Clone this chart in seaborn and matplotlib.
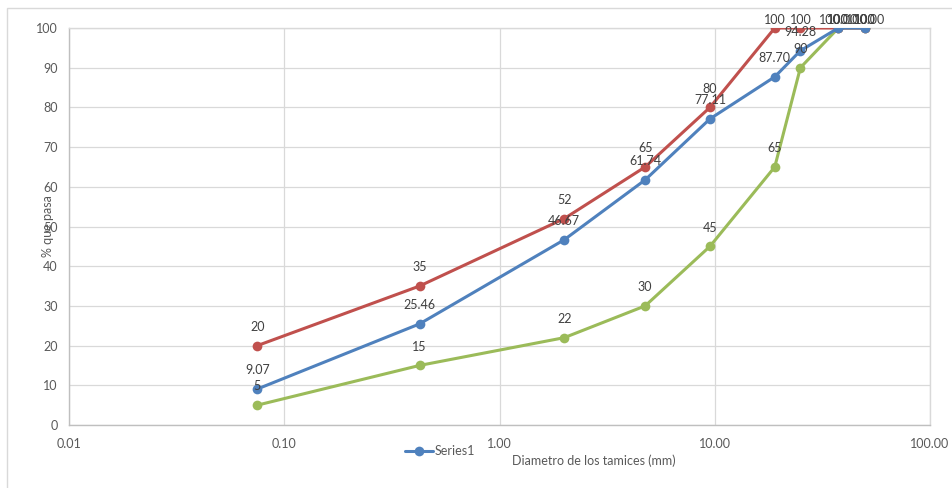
import matplotlib
matplotlib.use("Agg")
import matplotlib.pyplot as plt
from matplotlib.lines import Line2D
from matplotlib.patches import Rectangle
import pandas as pd
import seaborn as sns

# Sieve openings (mm) and percent passing for each curve
sieve_mm = [0.075, 0.425, 2.0, 4.75, 9.5, 19.0, 25.0, 37.5, 50.0]
series1 = [9.07, 25.46, 46.67, 61.74, 77.11, 87.70, 94.28, 100, 100]
upper_limit = [20, 35, 52, 65, 80, 100, 100, 100, 100]
lower_limit = [5, 15, 22, 30, 45, 65, 90, 100, 100]

series_names = ["Series1", "Upper", "Lower"]
colors = {"Series1": "#4F81BD", "Upper": "#C0504D", "Lower": "#9BBB59"}
label_fmt = {"Series1": "{:.2f}", "Upper": "{:.0f}", "Lower": "{:.0f}"}

x_ticks = [0.01, 0.1, 1, 10, 100]
x_tick_labels = ["0.01", "0.10", "1.00", "10.00", "100.00"]
y_ticks = list(range(0, 101, 10))

frames = []
for name, vals in zip(series_names, [series1, upper_limit, lower_limit]):
    frames.append(pd.DataFrame({"size": sieve_mm, "pct": vals, "serie": name}))
df = pd.concat(frames, ignore_index=True)

sns.set_theme(style="white")
plt.rcParams["font.family"] = ["Lato", "DejaVu Sans"]

fig = plt.figure(figsize=(9.52, 4.88), dpi=100)
ax = fig.add_axes([69 / 952, 63 / 488, 861 / 952, 397 / 488])

# Outer chart frame
fig.patches.append(Rectangle((7 / 952, -0.01), 1.0, (488 - 8) / 488 + 0.01,
                             transform=fig.transFigure, fill=False,
                             edgecolor="#D9D9D9", linewidth=1.0, zorder=0))

# Draw order: green, then red, then blue on top
for name in ["Lower", "Upper", "Series1"]:
    sub = df[df["serie"] == name]
    sns.lineplot(data=sub, x="size", y="pct", ax=ax, color=colors[name],
                 marker="o", markersize=7, markeredgewidth=0, linewidth=2.2,
                 legend=False, sort=False, zorder=3)

ax.set_xscale("log")
ax.set_xlim(0.01, 100)
ax.set_ylim(0, 100)
ax.set_xticks(x_ticks)
ax.set_xticklabels(x_tick_labels)
ax.set_yticks(y_ticks)
ax.minorticks_off()

ax.grid(True, color="#D9D9D9", linewidth=0.9)
ax.set_axisbelow(True)
for side in ["top", "right"]:
    ax.spines[side].set_color("#D9D9D9")
for side in ["left", "bottom"]:
    ax.spines[side].set_color("#BFBFBF")
for s in ax.spines.values():
    s.set_linewidth(1.0)

ax.tick_params(axis="y", direction="out", length=5, color="#BFBFBF",
               labelsize=9, labelcolor="#595959", pad=3)
ax.tick_params(axis="x", direction="out", length=0, labelsize=9,
               labelcolor="#595959", pad=9)

# Data labels above each point; labels at the top are kept inside the chart
for name, vals in zip(series_names, [series1, upper_limit, lower_limit]):
    for xv, yv in zip(sieve_mm, vals):
        dy = 6 if yv >= 99.5 else 13.5
        ax.annotate(label_fmt[name].format(yv), (xv, yv), xytext=(0, dy),
                    textcoords="offset points", ha="center", va="center",
                    fontsize=9, color="#404040", zorder=5,
                    annotation_clip=False)

ax.set_xlabel("Diametro de los tamices (mm)", fontsize=9, color="#595959")
ax.xaxis.set_label_coords(0.61, -0.075)
ax.set_ylabel("% que pasa", fontsize=9, color="#595959")
ax.yaxis.set_label_coords(-0.018, 0.5)

handle = Line2D([0], [0], color=colors["Series1"], marker="o", markersize=7,
                markeredgewidth=0, linewidth=2.2)
fig.legend([handle], ["Series1"], loc="center", bbox_to_anchor=(440 / 952, 1 - 451 / 488),
           frameon=False, fontsize=9, labelcolor="#595959", handlelength=2.2,
           handletextpad=0.1)

fig.savefig("out.png", dpi=100)
